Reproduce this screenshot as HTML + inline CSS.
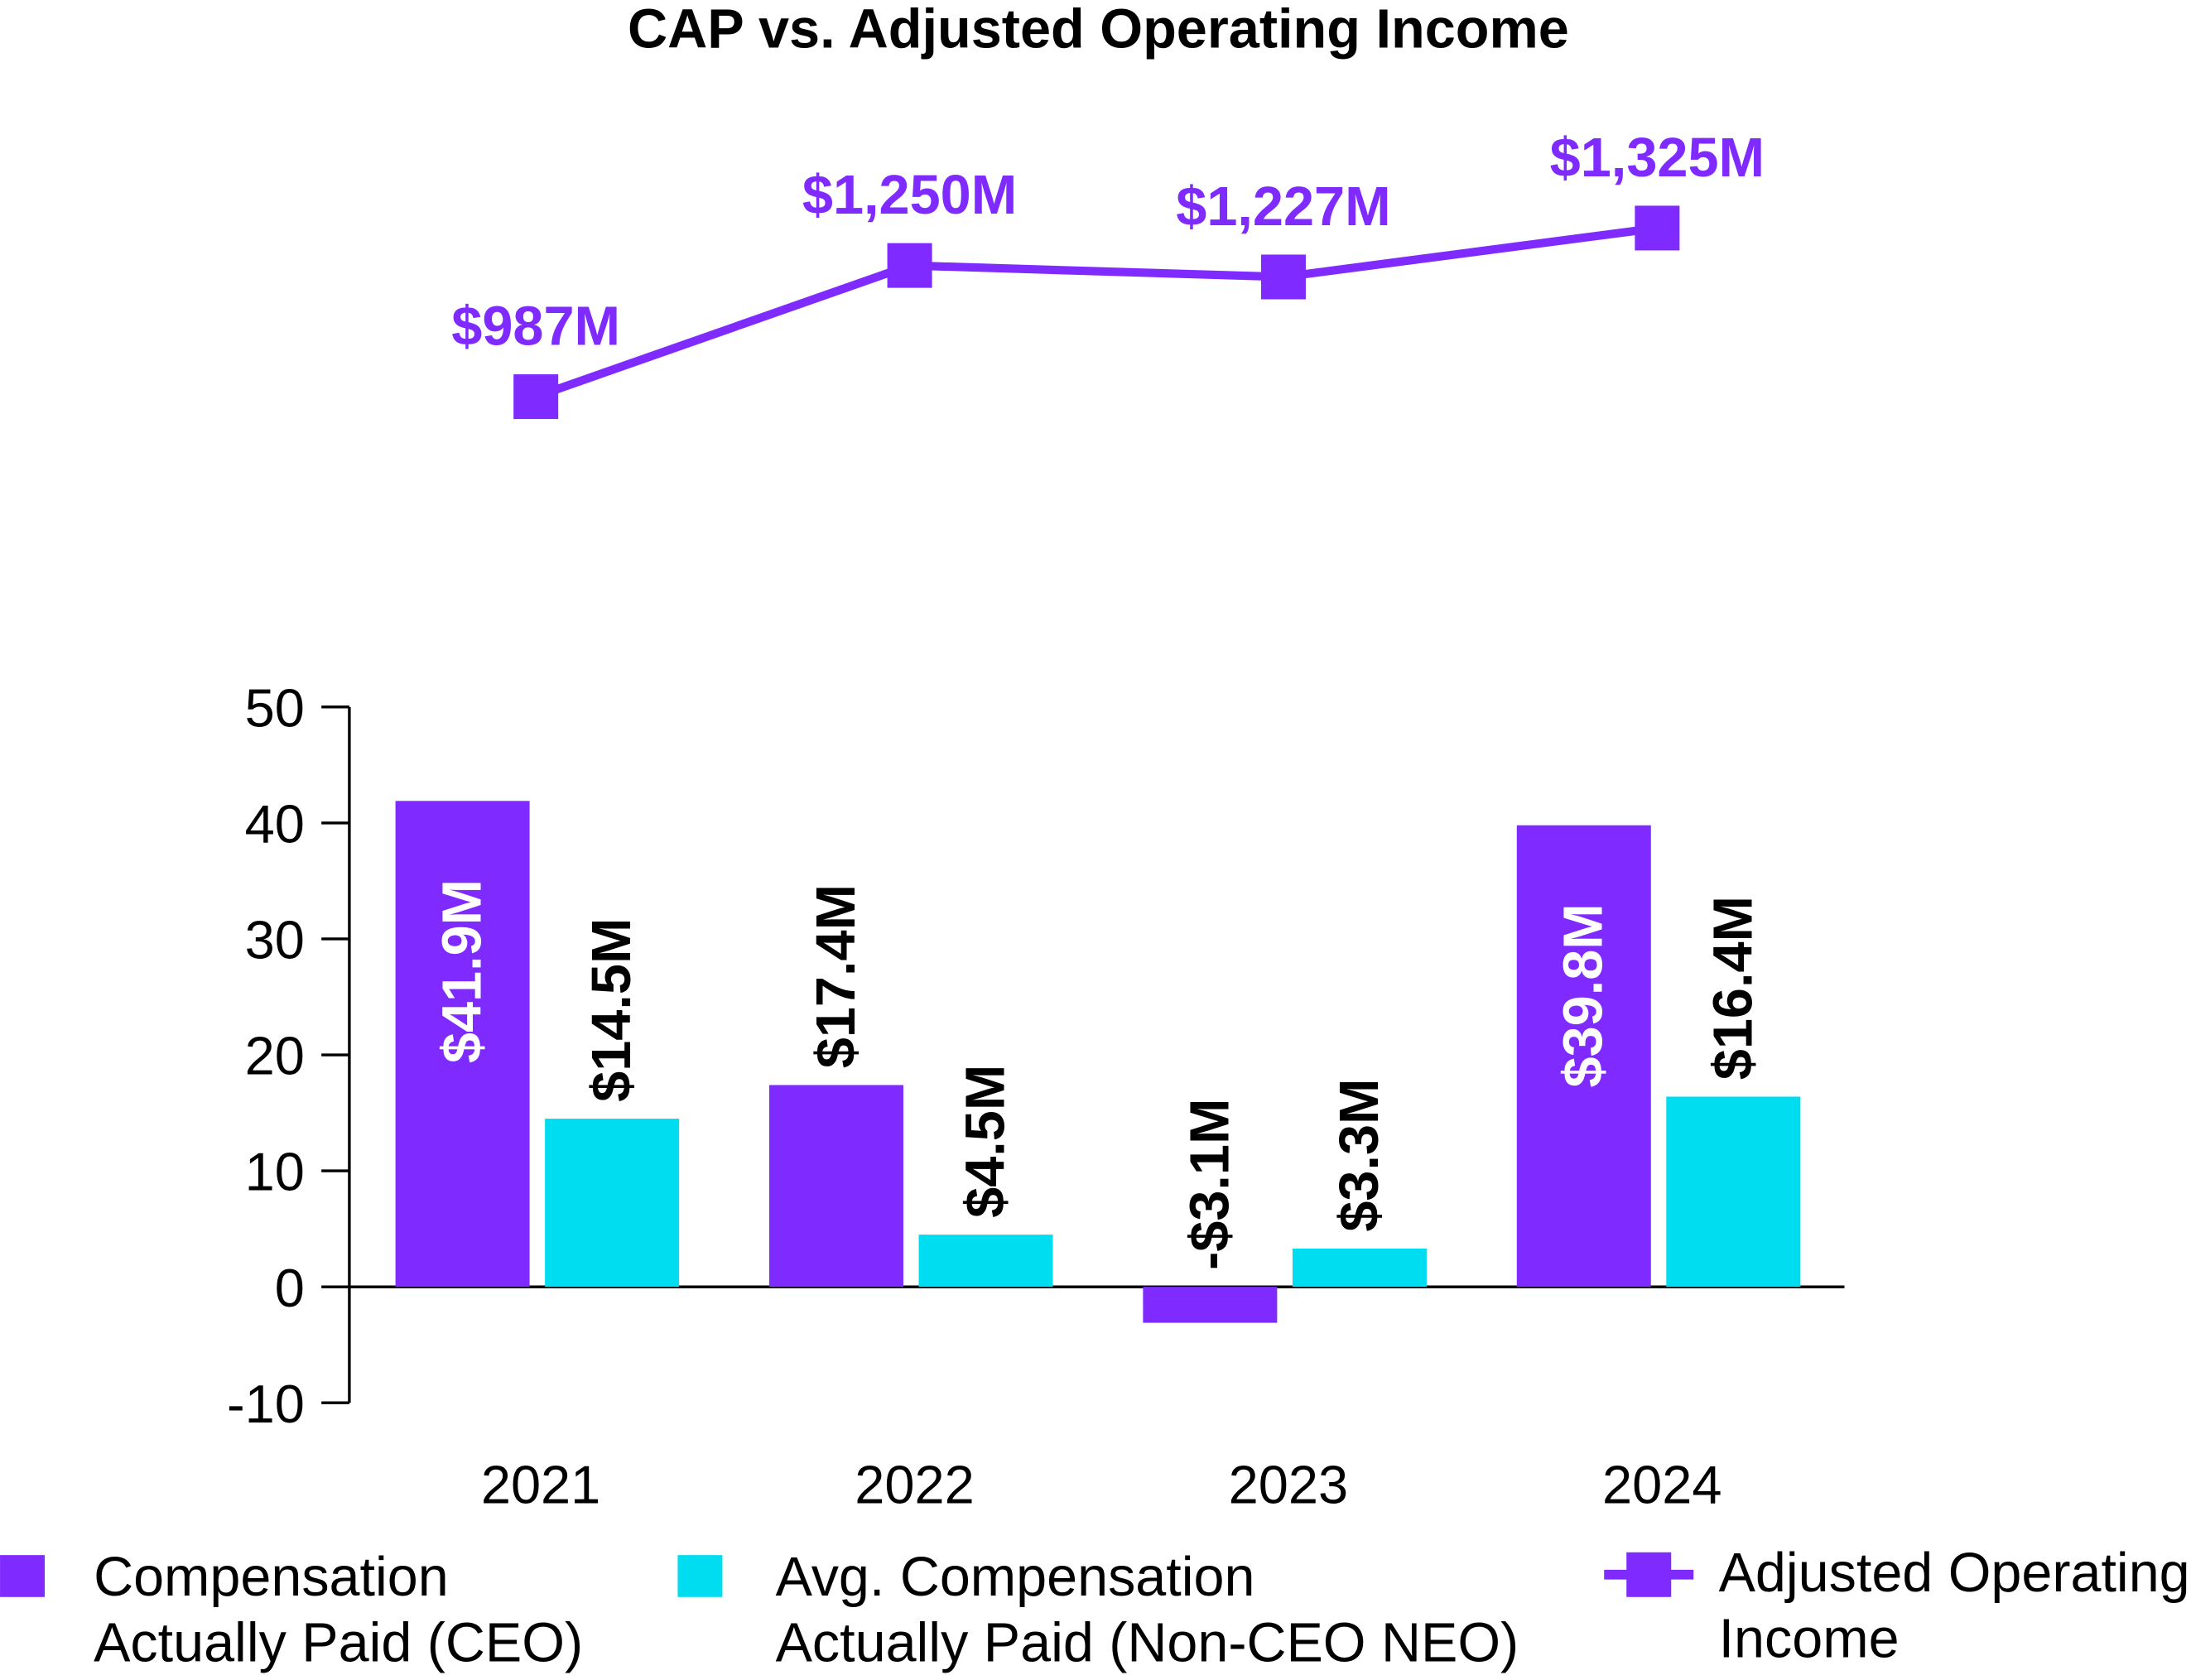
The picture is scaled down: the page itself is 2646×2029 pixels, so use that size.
<!DOCTYPE html>
<html><head><meta charset="utf-8"><style>
html,body{margin:0;padding:0;background:#fff}
svg{display:block;font-family:"Liberation Sans",Arial,sans-serif}
</style></head><body>
<svg id="c" width="2646" height="2029" viewBox="0 0 1568 1202.4" xmlns="http://www.w3.org/2000/svg">
<text x="786" y="34" text-anchor="middle" font-size="39.5" font-weight="bold" fill="#000">CAP vs. Adjusted Operating Income</text>
<g id="axes"></g><g id="bars"></g><g id="line"></g>
<g>
<rect x="0" y="1113" width="32" height="30" fill="#7F2BFF"/>
<text x="67" y="1142" font-size="39.4" fill="#000">Compensation</text>
<text x="67" y="1189" font-size="39.4" fill="#000">Actually Paid (CEO)</text>
<rect x="485" y="1113" width="32" height="30" fill="#00DDF0"/>
<text x="555" y="1142" font-size="39.4" fill="#000">Avg. Compensation</text>
<text x="555" y="1189" font-size="39.4" fill="#000">Actually Paid (Non-CEO NEO)</text>
<line x1="1148" y1="1127" x2="1212" y2="1127" stroke="#7F2BFF" stroke-width="7"/>
<rect x="1164" y="1111" width="32" height="32" fill="#7F2BFF"/>
<text x="1230" y="1139" font-size="39.4" fill="#000">Adjusted Operating</text>
<text x="1230" y="1186" font-size="39.4" fill="#000">Income</text>
</g>
</svg>
<script>
const years=["2021","2022","2023","2024"];
const ceo=[41.9,17.4,-3.1,39.8];
const neo=[14.5,4.5,3.3,16.4];
const ceoLabels=["$41.9M","$17.4M","-$3.1M","$39.8M"];
const neoLabels=["$14.5M","$4.5M","$3.3M","$16.4M"];
const income=[987,1250,1227,1325];
const incomeLabels=["$987M","$1,250M","$1,227M","$1,325M"];
const yTicks=[50,40,30,20,10,0,-10];
const P="#7F2BFF",C="#00DDF0",NS="http://www.w3.org/2000/svg";
const y=v=>921-v*8.3;
const xc=i=>385+i*267.5;
const ly=v=>190-(v-1250)*0.357;
function mk(t,a,p){const e=document.createElementNS(NS,t);for(const k in a)if(k!=='_t')e.setAttribute(k,a[k]);if(t==='text')e.textContent=a._t||'';p.appendChild(e);return e;}
const ax=document.getElementById('axes'),bg=document.getElementById('bars'),lg=document.getElementById('line');
let e=mk('line',{x1:250,y1:y(50),x2:250,y2:y(-10),stroke:'#000','stroke-width':2},ax);


e=mk('line',{x1:250,y1:y(0),x2:1320,y2:y(0),stroke:'#000','stroke-width':2},ax);


yTicks.forEach(t=>{
 let l=mk('line',{x1:230,y1:y(t),x2:250,y2:y(t),stroke:'#000','stroke-width':2},ax);
 
 
 let tx=mk('text',{x:218,y:y(t)+14,'text-anchor':'end','font-size':38.5,_t:String(t)},ax);
 
 
});
years.forEach((yr,i)=>{
 let t=mk('text',{x:xc(i)+2,y:1076,'text-anchor':'middle','font-size':38.5,_t:yr},ax);
 
 
 [[ceo,ceoLabels,P,-102,'ceo'],[neo,neoLabels,C,5,'neo']].forEach(([arr,lab,col,off,nm])=>{
  const v=arr[i],x0=xc(i)+off,w=96;
  const top=Math.min(y(v),y(0)),h=Math.abs(y(v)-y(0));
  let r=mk('rect',{x:x0,y:top,width:w,height:h,fill:col},bg);
  
  
  const cx=x0+w/2+13;
  let inside=(nm==='ceo'&&v>30);
  let anchor,ypos,fill;
  if(inside){anchor='end';ypos=y(v)+56;fill='#fff';}
  else{anchor='start';ypos=(v>=0?y(v):y(0))-12;fill='#000';}
  let tl=mk('text',{x:0,y:0,'text-anchor':anchor,'font-size':39.5,'font-weight':'bold',fill:fill,transform:`translate(${cx},${ypos}) rotate(-90)`,_t:lab[i]},bg);
  
  
 });
});
let pts=income.map((v,i)=>[xc(i)-1.5,ly(v)]);
e=mk('polyline',{points:pts.map(p=>p.join(',')).join(' '),fill:'none',stroke:P,'stroke-width':6},lg);


pts.forEach((p,i)=>{
 let m=mk('rect',{x:p[0]-16,y:p[1]-16,width:32,height:32,fill:P},lg);
 
 
 let t=mk('text',{x:p[0],y:p[1]-37,'text-anchor':'middle','font-size':39.5,'font-weight':'bold',fill:P,_t:incomeLabels[i]},lg);
 
 
});
</script>
</body></html>
